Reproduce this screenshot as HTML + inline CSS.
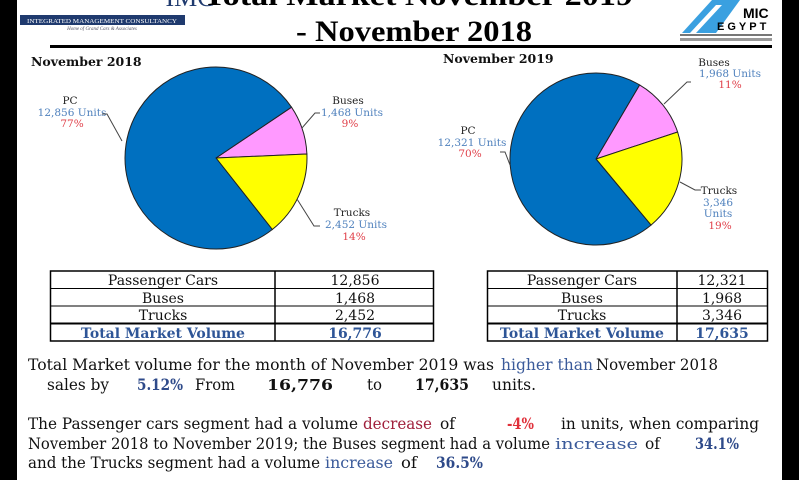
<!DOCTYPE html>
<html><head><meta charset="utf-8"><style>
html,body{margin:0;padding:0;background:#fff;}
svg{display:block;}
</style></head><body>
<svg width="799" height="480" viewBox="0 0 799 480" xmlns="http://www.w3.org/2000/svg" font-family="'DejaVu Serif','Liberation Serif',serif">
<rect width="799" height="480" fill="#fff"/>
<rect x="0" y="0" width="17" height="480" fill="#000"/>
<rect x="782" y="0" width="17" height="480" fill="#000"/>
<!-- IMC logo -->
<text x="190" y="6" font-family="'Liberation Serif',serif" font-size="26" fill="#1f3a6e" text-anchor="middle">IMC</text>
<rect x="20" y="15" width="165" height="10" fill="#1f3a6e"/>
<text x="102" y="23" font-family="'Liberation Serif',serif" font-size="6.5" fill="#fff" text-anchor="middle" textLength="150" lengthAdjust="spacingAndGlyphs">INTEGRATED MANAGEMENT CONSULTANCY</text>
<text x="102" y="30" font-family="'Liberation Serif',serif" font-size="5" font-style="italic" fill="#556" text-anchor="middle">Home of Grand Cars &amp; Associates</text>
<!-- title -->
<text x="418" y="5" font-size="30" font-weight="bold" fill="#000" text-anchor="middle" textLength="430" lengthAdjust="spacingAndGlyphs" font-family="'Liberation Serif',serif">Total Market November 2019</text>
<text x="414" y="41" font-size="30" font-weight="bold" fill="#000" text-anchor="middle" textLength="236" lengthAdjust="spacingAndGlyphs" font-family="'Liberation Serif',serif">- November 2018</text>
<!-- AMIC logo -->
<polygon points="682,33 712,0 740,0 716,33" fill="#3aa0e0"/>
<polygon points="690,33 716,5 722,5 696,33" fill="#fff"/>
<text x="743" y="18" font-family="'Liberation Sans',sans-serif" font-weight="bold" font-size="14" fill="#000">MIC</text>
<text x="717" y="30" font-family="'Liberation Sans',sans-serif" font-weight="bold" font-size="11" fill="#000" letter-spacing="3">EGYPT</text>
<rect x="680" y="34" width="92" height="2" fill="#777"/>
<rect x="680" y="38" width="92" height="3" fill="#999"/>
<!-- separator -->
<rect x="50" y="45" width="722" height="3" fill="#000"/>
<!-- headers -->
<text x="31" y="66" font-size="12.5" font-weight="bold" fill="#111">November 2018</text>
<text x="443" y="63" font-size="12.5" font-weight="bold" fill="#111">November 2019</text>
<!-- left pie -->
<g stroke="#222" stroke-width="1">
<path d="M216,158 L291.5,107.2 A91,91 0 0,1 306.9,154 Z" fill="#ff99ff"/>
<path d="M216,158 L306.9,154 A91,91 0 0,1 272.3,229.5 Z" fill="#ffff00"/>
<path d="M216,158 L272.3,229.5 A91,91 0 1,1 291.5,107.2 Z" fill="#0070c0"/>
</g>
<g font-size="10.5" text-anchor="middle">
<text x="70" y="104" fill="#222">PC</text>
<text x="72" y="116" fill="#4f81bd">12,856 Units</text>
<text x="72" y="127" fill="#e0404a">77%</text>
<text x="348" y="104" fill="#222">Buses</text>
<text x="352" y="116" fill="#4f81bd">1,468 Units</text>
<text x="350" y="127" fill="#e0404a">9%</text>
<text x="352" y="216" fill="#222">Trucks</text>
<text x="356" y="228" fill="#4f81bd">2,452 Units</text>
<text x="354" y="240" fill="#e0404a">14%</text>
</g>
<g stroke="#444" fill="none" stroke-width="1">
<polyline points="102,114 107,114 122,141"/>
<polyline points="320,113 315,113 302,128"/>
<polyline points="320,226 314,226 297,199"/>
</g>
<!-- right pie -->
<g stroke="#222" stroke-width="1">
<path d="M596,159 L639.6,84.9 A86,86 0 0,1 677.6,132 Z" fill="#ff99ff"/>
<path d="M596,159 L677.6,132 A86,86 0 0,1 651,225.1 Z" fill="#ffff00"/>
<path d="M596,159 L651,225.1 A86,86 0 1,1 639.6,84.9 Z" fill="#0070c0"/>
</g>
<g font-size="10.5" text-anchor="middle">
<text x="468" y="134" fill="#222">PC</text>
<text x="472" y="146" fill="#4f81bd">12,321 Units</text>
<text x="470" y="157" fill="#e0404a">70%</text>
<text x="714" y="66" fill="#222">Buses</text>
<text x="730" y="77" fill="#4f81bd">1,968 Units</text>
<text x="730" y="88" fill="#e0404a">11%</text>
<text x="719" y="194" fill="#222">Trucks</text>
<text x="718" y="206" fill="#4f81bd">3,346</text>
<text x="718" y="217" fill="#4f81bd">Units</text>
<text x="720" y="229" fill="#e0404a">19%</text>
</g>
<g stroke="#444" fill="none" stroke-width="1">
<polyline points="500,152 505,152 510,165"/>
<polyline points="691,82 687,82 664,104"/>
<polyline points="701,190 695,190 680,182"/>
</g>
<!-- tables -->
<g stroke="#000" fill="none">
<rect x="50.5" y="271" width="383" height="70" stroke-width="1.5"/>
<line x1="275" y1="271" x2="275" y2="341" stroke-width="1.5"/>
<line x1="50" y1="288.5" x2="434" y2="288.5" stroke-width="1"/>
<line x1="50" y1="306" x2="434" y2="306" stroke-width="1"/>
<line x1="50" y1="323.5" x2="434" y2="323.5" stroke-width="2"/>
<rect x="487.5" y="271" width="280" height="70" stroke-width="1.5"/>
<line x1="677" y1="271" x2="677" y2="341" stroke-width="1.5"/>
<line x1="487" y1="288.5" x2="768" y2="288.5" stroke-width="1"/>
<line x1="487" y1="306" x2="768" y2="306" stroke-width="1"/>
<line x1="487" y1="323.5" x2="768" y2="323.5" stroke-width="2"/>
</g>
<g font-size="14" text-anchor="middle" fill="#111">
<text x="163" y="285">Passenger Cars</text>
<text x="163" y="303">Buses</text>
<text x="163" y="320">Trucks</text>
<text x="163" y="338" font-weight="bold" fill="#2e5597">Total Market Volume</text>
<text x="355" y="285">12,856</text>
<text x="355" y="303">1,468</text>
<text x="355" y="320">2,452</text>
<text x="355" y="338" font-weight="bold" fill="#2e5597">16,776</text>
<text x="582" y="285">Passenger Cars</text>
<text x="582" y="303">Buses</text>
<text x="582" y="320">Trucks</text>
<text x="582" y="338" font-weight="bold" fill="#2e5597">Total Market Volume</text>
<text x="722" y="285">12,321</text>
<text x="722" y="303">1,968</text>
<text x="722" y="320">3,346</text>
<text x="722" y="338" font-weight="bold" fill="#2e5597">17,635</text>
</g>
<!-- body text -->
<g font-size="16" fill="#111">
<text x="28" y="370" textLength="466" lengthAdjust="spacingAndGlyphs">Total Market volume for the month of November 2019 was</text>
<text x="501" y="370" fill="#3a5a9a" textLength="92" lengthAdjust="spacingAndGlyphs">higher than</text>
<text x="596" y="370" textLength="122" lengthAdjust="spacingAndGlyphs">November 2018</text>
<text x="47" y="390" textLength="62" lengthAdjust="spacingAndGlyphs">sales by</text>
<text x="137" y="390" font-weight="bold" fill="#2e4a8a" textLength="46" lengthAdjust="spacingAndGlyphs">5.12%</text>
<text x="195" y="390" textLength="40" lengthAdjust="spacingAndGlyphs">From</text>
<text x="267" y="390" font-weight="bold" font-size="15" textLength="66" lengthAdjust="spacingAndGlyphs">16,776</text>
<text x="367" y="390" textLength="15" lengthAdjust="spacingAndGlyphs">to</text>
<text x="415" y="390" font-weight="bold" textLength="54" lengthAdjust="spacingAndGlyphs">17,635</text>
<text x="492" y="390" textLength="44" lengthAdjust="spacingAndGlyphs">units.</text>

<text x="28" y="429" textLength="330" lengthAdjust="spacingAndGlyphs">The Passenger cars segment had a volume</text>
<text x="363" y="429" fill="#a0203c" textLength="69" lengthAdjust="spacingAndGlyphs">decrease</text>
<text x="440" y="429" textLength="15" lengthAdjust="spacingAndGlyphs">of</text>
<text x="507" y="429" font-weight="bold" fill="#e0303a" textLength="27" lengthAdjust="spacingAndGlyphs">-4%</text>
<text x="561" y="429" textLength="198" lengthAdjust="spacingAndGlyphs">in units, when comparing</text>
<text x="28" y="449" textLength="522" lengthAdjust="spacingAndGlyphs">November 2018 to November 2019; the Buses segment had a volume</text>
<text x="555" y="449" fill="#3a5a9a" font-size="15" textLength="83" lengthAdjust="spacingAndGlyphs">increase</text>
<text x="645" y="449" textLength="15" lengthAdjust="spacingAndGlyphs">of</text>
<text x="695" y="449" font-weight="bold" fill="#2e4a8a" textLength="44" lengthAdjust="spacingAndGlyphs">34.1%</text>
<text x="28" y="468" textLength="292" lengthAdjust="spacingAndGlyphs">and the Trucks segment had a volume</text>
<text x="325" y="468" fill="#3a5a9a" textLength="68" lengthAdjust="spacingAndGlyphs">increase</text>
<text x="401" y="468" textLength="16" lengthAdjust="spacingAndGlyphs">of</text>
<text x="436" y="468" font-weight="bold" fill="#2e4a8a" textLength="47" lengthAdjust="spacingAndGlyphs">36.5%</text>
</g>
</svg>
</body></html>
